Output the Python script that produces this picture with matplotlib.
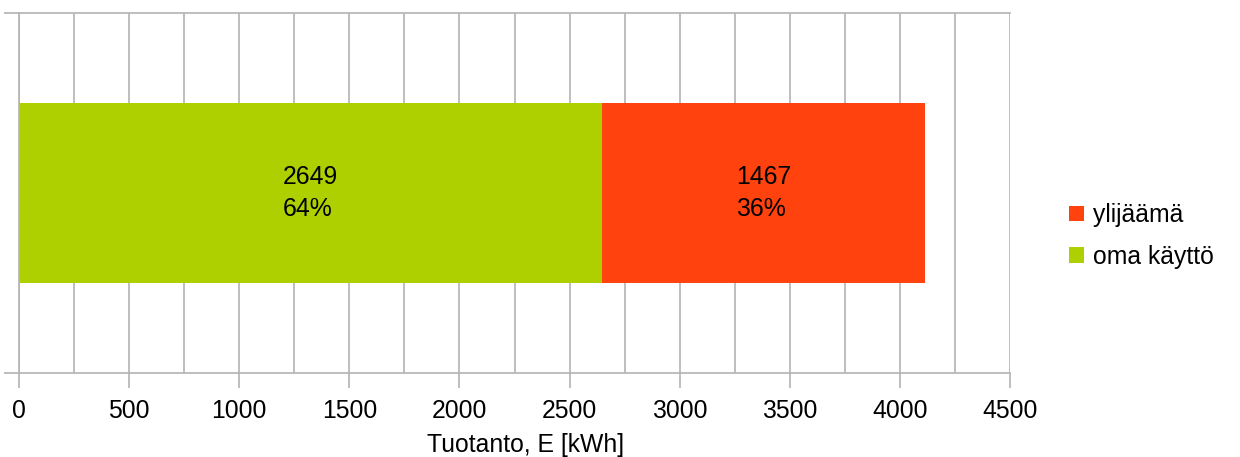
import matplotlib
matplotlib.use("Agg")
import matplotlib.pyplot as plt
from matplotlib.ticker import MultipleLocator

categories = [""]
oma_kaytto = [2649]
ylijaama = [1467]
series_names = ["oma käyttö", "ylijäämä"]
colors = ["#aecf00", "#ff420e"]
x_label = "Tuotanto, E [kWh]"

plt.rcParams["font.family"] = ["Liberation Sans", "DejaVu Sans"]
grid_col = "#b3b3b3"
fs = 17.8

fig = plt.figure(figsize=(12.4, 4.57), dpi=100)
ax = fig.add_axes([19 / 1240, 1 - 373 / 457, (1010 - 19) / 1240, 360 / 457])

y = list(range(len(categories)))
b1 = ax.barh(y, oma_kaytto, height=0.5, color=colors[0], label=series_names[0], zorder=2)
b2 = ax.barh(y, ylijaama, left=oma_kaytto, height=0.5, color=colors[1], label=series_names[1], zorder=2)

total = [a + b for a, b in zip(oma_kaytto, ylijaama)]
for bars, vals in ((b1, oma_kaytto), (b2, ylijaama)):
    for rect, v, t in zip(bars, vals, total):
        cx = rect.get_x() + rect.get_width() / 2
        cy = rect.get_y() + rect.get_height() / 2
        ax.text(cx, cy, f"{v}\n{round(100 * v / t)}%", ha="center", va="center",
                multialignment="left", fontsize=fs, linespacing=1.42,
                color="black", zorder=3)

ax.set_xlim(0, 4500)
ax.set_ylim(-0.5, 0.5)
ax.xaxis.set_major_locator(MultipleLocator(500))
ax.xaxis.set_minor_locator(MultipleLocator(250))
ax.grid(True, axis="x", which="both", color=grid_col, linewidth=1.2, zorder=0)
ax.set_yticks([-0.5, 0.5])
ax.set_yticklabels([])
ax.tick_params(axis="y", length=11, width=1.2, color=grid_col, direction="out")
ax.tick_params(axis="x", which="major", length=11, width=1.2, color=grid_col,
               direction="out", labelsize=fs, pad=8)
ax.tick_params(axis="x", which="minor", length=0)

for side in ("left", "bottom", "top"):
    ax.spines[side].set_color(grid_col)
    ax.spines[side].set_linewidth(1.2)
ax.spines["right"].set_visible(False)

ax.set_xlabel(x_label, fontsize=fs)
ax.xaxis.set_label_coords((526 - 19) / 991, (373 - 433) / 360)

handles, labels = ax.get_legend_handles_labels()
fig.legend(handles[::-1], labels[::-1], loc="center left",
           bbox_to_anchor=(1047 / 1240, 1 - 236 / 457), frameon=False,
           fontsize=fs, handlelength=0.6, handleheight=0.6,
           handletextpad=0.35, labelspacing=0.7)

fig.savefig("out.png", dpi=100)
